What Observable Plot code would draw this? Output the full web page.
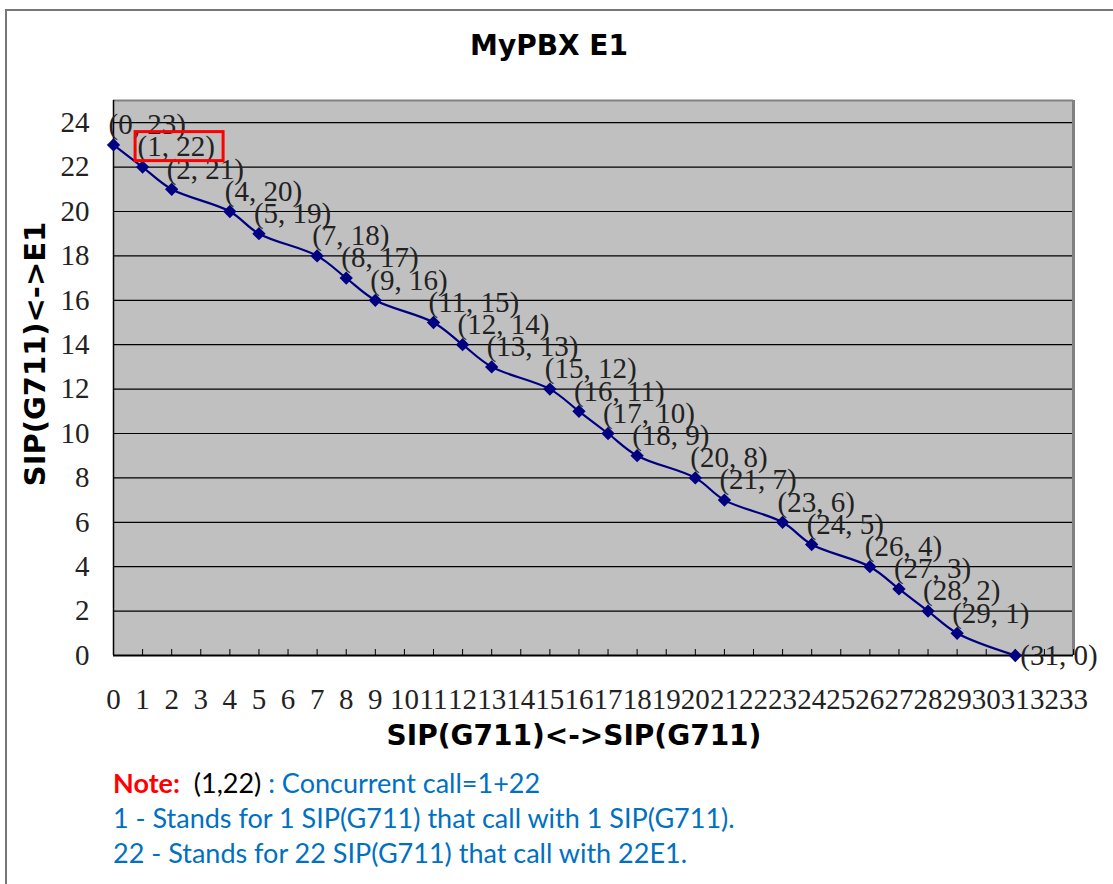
<!DOCTYPE html>
<html>
<head>
<meta charset="utf-8">
<script src="https://cdn.jsdelivr.net/npm/d3@7"></script>
<script src="https://cdn.jsdelivr.net/npm/@observablehq/plot@0.6"></script>
<style>
  html, body { margin: 0; padding: 0; background: #fff; width: 1113px; height: 884px; overflow: hidden; }
  #border { position: absolute; left: 5px; top: 9px; width: 1200px; height: 1000px; border-left: 2px solid #777; border-top: 2px solid #777; }
  #chart { position: absolute; left: 0; top: 0; }
  .title { position: absolute; font-family: "DejaVu Sans", sans-serif; font-weight: bold; color: #000; white-space: nowrap; }
  #title { left: 549px; top: 45px; transform: translate(-50%, -50%); font-size: 28px; }
  #xtitle { left: 574px; top: 735px; transform: translate(-50%, -50%); font-size: 28px; }
  #ytitle { left: 35px; top: 354px; transform: translate(-50%, -50%) rotate(-90deg); font-size: 29px; }
  #notes { position: absolute; left: 113px; top: 765px; font-family: Lato, "Open Sans", sans-serif; font-size: 27px; line-height: 35px; color: #0070c0; white-space: nowrap; }
  .red { color: #ff0000; font-weight: bold; }
  .blk { color: #000; }
</style>
</head>
<body>
<div id="border"></div>
<div id="chart"></div>
<div class="title" id="title">MyPBX E1</div>
<div class="title" id="xtitle">SIP(G711)&lt;-&gt;SIP(G711)</div>
<div class="title" id="ytitle">SIP(G711)&lt;-&gt;E1</div>
<div id="notes">
  <div><span class="red">Note:</span>&nbsp; <span class="blk">(1,22)</span> : Concurrent call=1+22</div>
  <div>1 - Stands for 1 SIP(G711) that call with 1 SIP(G711).</div>
  <div>22 - Stands for 22 SIP(G711) that call with 22E1.</div>
</div>
<script>
// Data
const sipCalls = [0, 1, 2, 4, 5, 7, 8, 9, 11, 12, 13, 15, 16, 17, 18, 20, 21, 23, 24, 26, 27, 28, 29, 31];
const e1Calls  = [23, 22, 21, 20, 19, 18, 17, 16, 15, 14, 13, 12, 11, 10, 9, 8, 7, 6, 5, 4, 3, 2, 1, 0];
const xTicks = d3.range(0, 34);
const yTicks = [0, 2, 4, 6, 8, 10, 12, 14, 16, 18, 20, 22, 24];
const highlighted = [{x: 1, y: 22}];

const points = sipCalls.map((x, i) => ({x, y: e1Calls[i]}));
const lastIndex = points.length - 1;
const labelText = d => `(${d.x}, ${d.y})`;
const navy = "#000080";
const serif = "Liberation Serif, Times New Roman, serif";

const chart = Plot.plot({
  width: 1113,
  height: 760,
  marginTop: 100,
  marginBottom: 105,
  marginLeft: 113,
  marginRight: 40,
  style: { fontFamily: serif, fontSize: "29px", background: "transparent" },
  x: { domain: [0, 33], label: null },
  y: { domain: [0, 25], label: null },
  marks: [
    Plot.frame({ fill: "#c0c0c0", stroke: null }),
    Plot.ruleY(yTicks.filter(v => v > 0), { stroke: "#000", strokeWidth: 1.2 }),
    Plot.ruleY([25], { stroke: "#808080", strokeWidth: 2 }),
    Plot.ruleX([33], { stroke: "#808080", strokeWidth: 3 }),
    Plot.ruleX([0], { stroke: "#000", strokeWidth: 1.5 }),
    Plot.ruleY([0], { stroke: "#000", strokeWidth: 2 }),
    Plot.axisX(xTicks, { tickSize: -6, tickFormat: () => "", stroke: "#000" }),
    Plot.axisX(xTicks, { tickSize: 0, tickPadding: 33, fill: "#222", fontFamily: serif, fontSize: 29, tickFormat: d => String(d) }),
    Plot.axisY(yTicks, { tickSize: 0, tickPadding: 24, fill: "#222", fontFamily: serif, fontSize: 29, tickFormat: d => String(d) }),
    Plot.line(points, { x: "x", y: "y", stroke: navy, strokeWidth: 2.2, curve: "catmull-rom" }),
    Plot.dot(points, { x: "x", y: "y", symbol: "diamond2", r: 6, fill: navy, stroke: null }),
    Plot.text(points.filter((d, i) => i < lastIndex), { x: "x", y: "y", text: labelText, textAnchor: "start", dx: -5, dy: -20, fill: "#222", fontFamily: serif, fontSize: 29 }),
    Plot.text(points.filter((d, i) => i === lastIndex), { x: "x", y: "y", text: labelText, textAnchor: "start", dx: 5, dy: 0, fill: "#222", fontFamily: serif, fontSize: 29 }),
    Plot.rect(highlighted, { x1: "x", x2: "x", y1: "y", y2: "y", insetLeft: -7, insetRight: -81, insetTop: -35, insetBottom: 6, fill: "none", stroke: "#ff0000", strokeWidth: 3 })
  ]
});
document.getElementById("chart").appendChild(chart);
</script>
</body>
</html>
